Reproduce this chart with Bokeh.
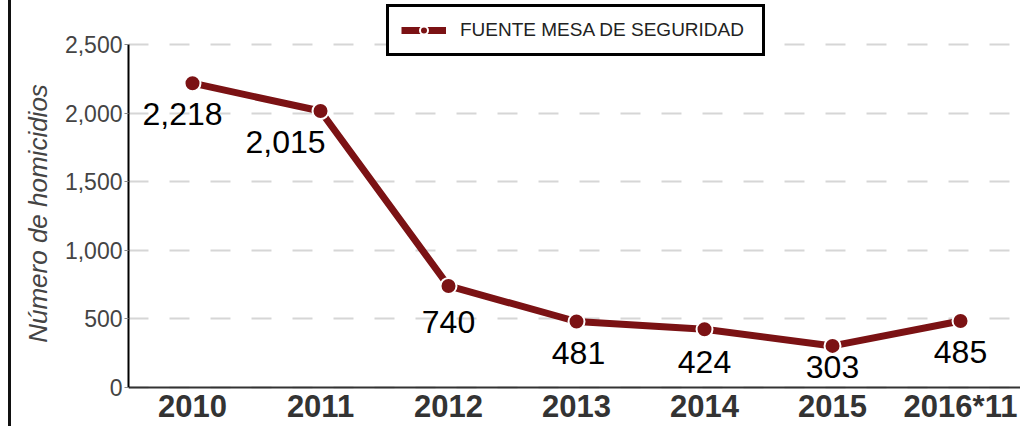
from bokeh.plotting import figure
from bokeh.models import Range1d, FixedTicker, NumeralTickFormatter
from bokeh.embed import file_html
from bokeh.resources import INLINE
from bokeh.core.properties import value

# ---- data ----
years = ["2010", "2011", "2012", "2013", "2014", "2015", "2016*11"]
homicidios = [2218, 2015, 740, 481, 424, 303, 485]
value_labels = ["2,218", "2,015", "740", "481", "424", "303", "485"]
y_ticks = [0, 500, 1000, 1500, 2000, 2500]
series_name = "FUENTE MESA DE SEGURIDAD"
y_title = "Número de homicidios"

# label placement (presentation only)
label_dx = [-10, -35, 0, 2, 0, 0, 0]
label_dy = [31, 31, 36, 31, 33, 21, 31]

RED = "#7b1214"
FONT = "Liberation Sans"

xs = list(range(len(years)))

p = figure(width=1012, height=426, output_backend="svg", toolbar_location=None,
           x_range=Range1d(-0.5, 6.492), y_range=Range1d(-284.3, 2820.7),
           min_border_left=117, min_border_right=0, min_border_top=0, min_border_bottom=0)
p.styles = {"border-left": "3px solid #111111", "margin-left": "8px"}
p.outline_line_color = None
p.background_fill_color = "white"
p.border_fill_color = "white"

# grid
p.xgrid.grid_line_color = None
p.ygrid.grid_line_color = "#d6d6d6"
p.ygrid.grid_line_width = 2
p.ygrid.grid_line_dash = "20 21"
p.yaxis.ticker = FixedTicker(ticks=y_ticks)

# y axis
p.yaxis.bounds = (0, 2500)
p.yaxis.formatter = NumeralTickFormatter(format="0,0")
p.yaxis.axis_line_color = "black"
p.yaxis.axis_line_width = 2
p.yaxis.major_tick_out = 4
p.yaxis.major_tick_in = 0
p.yaxis.major_tick_line_color = "#888888"
p.yaxis.minor_tick_line_color = None
p.yaxis.major_label_standoff = 2
p.yaxis.major_label_text_font = FONT
p.yaxis.major_label_text_font_size = "23px"
p.yaxis.major_label_text_color = "#444444"
p.yaxis.axis_label = y_title
p.yaxis.axis_label_text_font = FONT
p.yaxis.axis_label_text_font_size = "26px"
p.yaxis.axis_label_text_font_style = "italic"
p.yaxis.axis_label_text_color = "#444444"
p.yaxis.axis_label_standoff = 9

# x axis, drawn at y = 0 inside the frame
p.xaxis.fixed_location = 0
p.xaxis.ticker = FixedTicker(ticks=xs)
p.xaxis.major_label_overrides = {i: y for i, y in zip(xs, years)}
p.xaxis.axis_line_color = "#333333"
p.xaxis.axis_line_width = 2
p.xaxis.major_tick_line_color = None
p.xaxis.major_tick_out = 0
p.xaxis.minor_tick_line_color = None
p.xaxis.major_label_standoff = 2
p.xaxis.major_label_text_font = FONT
p.xaxis.major_label_text_font_size = "31px"
p.xaxis.major_label_text_font_style = "bold"
p.xaxis.major_label_text_color = "#333333"

# series
p.line(xs, homicidios, line_color=RED, line_width=7, line_join="round",
       legend_label=series_name)
p.scatter(xs, homicidios, size=16, fill_color=RED, line_color="white", line_width=2,
          legend_label=series_name)

p.text(x=xs, y=homicidios, text=value_labels, x_offset=label_dx, y_offset=label_dy,
       text_align="center", text_baseline="middle", text_color="black",
       text_font=value(FONT), text_font_size="32px")

# legend
lg = p.legend[0]
lg.location = (258, 370)
lg.margin = 0
lg.padding = 12
lg.spacing = 0
lg.glyph_width = 45
lg.glyph_height = 20
lg.label_standoff = 14
lg.label_width = 290
lg.label_height = 20
lg.label_text_font = FONT
lg.label_text_font_size = "19px"
lg.label_text_color = "#222222"
lg.border_line_color = "black"
lg.border_line_alpha = 1
lg.border_line_width = 3
lg.background_fill_color = "white"
lg.background_fill_alpha = 1

open("out.html", "w").write(file_html(p, INLINE))
